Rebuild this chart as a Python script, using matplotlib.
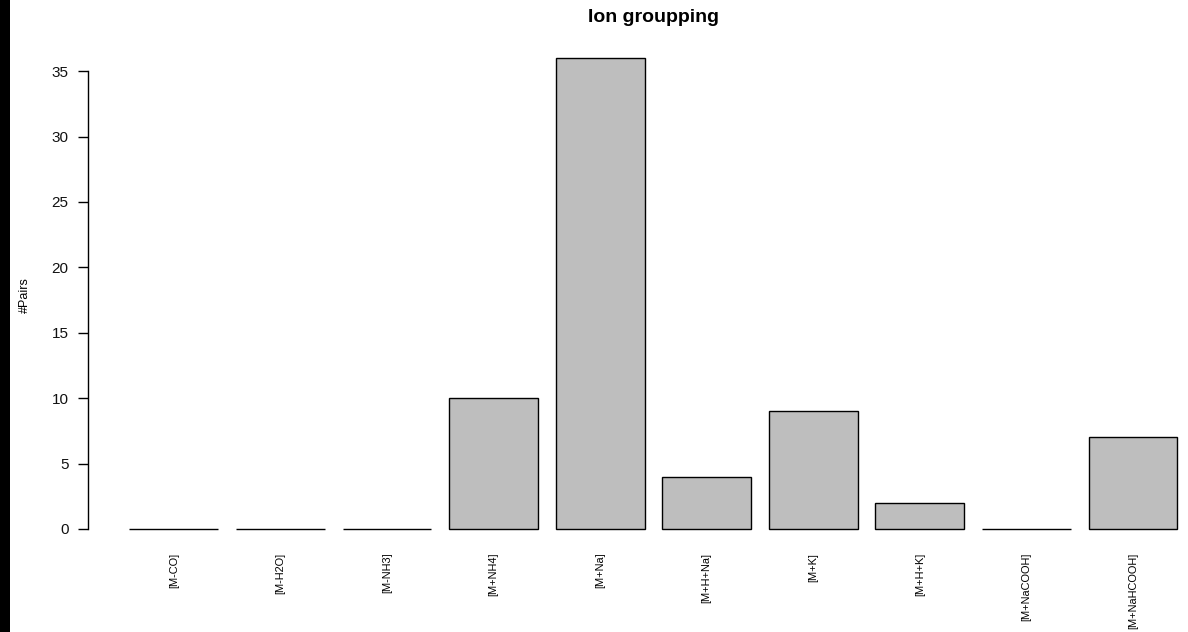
import matplotlib
matplotlib.use("Agg")
import matplotlib.pyplot as plt
from matplotlib.patches import Rectangle

categories = ["[M-CO]", "[M-H2O]", "[M-NH3]", "[M+NH4]", "[M+Na]",
              "[M+H+Na]", "[M+K]", "[M+H+K]", "[M+NaCOOH]", "[M+NaHCOOH]"]
pairs = [0, 0, 0, 10, 36, 4, 9, 2, 0, 7]
y_ticks = [0, 5, 10, 15, 20, 25, 30, 35]

plt.rcParams['font.family'] = ['Liberation Sans', 'DejaVu Sans']

W, H = 1188, 632
fig = plt.figure(figsize=(W / 100, H / 100), dpi=100)
fig.patch.set_facecolor("white")

# axes region in pixels
left_px, right_px, top_px, bot_px = 87.5, 1188, 39.2, 547.8
ax = fig.add_axes([left_px / W, (H - bot_px) / H, (right_px - left_px) / W, (bot_px - top_px) / H])

# R barplot geometry: width 1, space 0.2
lefts = [0.2 + 1.2 * i for i in range(len(pairs))]
centers = [l + 0.5 for l in lefts]
ax.bar(centers, pairs, width=1.0, color="#bebebe", edgecolor="black", linewidth=1.0)

px_per_unit = 1048 / 11.8
x0 = -0.272
ax.set_xlim(x0, x0 + (right_px - left_px) / px_per_unit)
ax.set_ylim(-1.44, 37.44)

for s in ["top", "right", "bottom"]:
    ax.spines[s].set_visible(False)
ax.spines["left"].set_bounds(0, 35)
ax.spines["left"].set_linewidth(1.0)

ax.set_yticks(y_ticks)
ax.set_yticklabels([str(v) for v in y_ticks], fontsize=11, color="#111111")
ax.tick_params(axis="y", length=7.2, width=1.0, pad=6.5)

ax.set_xticks(centers)
ax.set_xticklabels(categories, rotation=90, fontsize=7.9, va="top", ha="center")
ax.tick_params(axis="x", length=0, pad=3.6)

fig.text(653 / W, 1 - 18 / H, "Ion groupping", ha="center", va="center",
         fontsize=14, fontweight="bold")
fig.text(25 / W, 1 - 295 / H, "#Pairs", rotation=90, ha="center", va="center",
         fontsize=9)

# black strip at the left edge of the image
fig.add_artist(Rectangle((0, 0), 10 / W, 1, transform=fig.transFigure,
                         facecolor="black", edgecolor="none"))

fig.savefig("out.png", dpi=100)
